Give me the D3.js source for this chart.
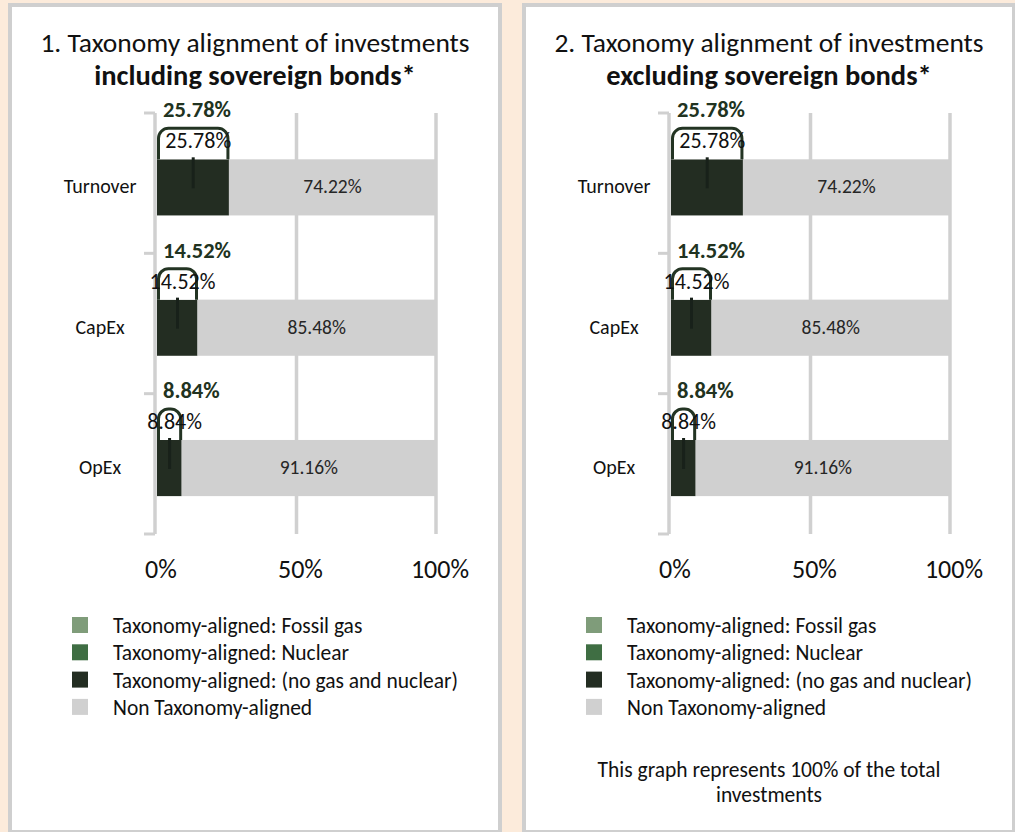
<!DOCTYPE html>
<html>
<head>
<meta charset="utf-8">
<script src="https://cdn.jsdelivr.net/npm/d3@7"></script>
<style>
    body { margin: 0; background: #FCEBDB; }
    svg { display: block; font-family: Carlito, Lato, "Open Sans", sans-serif; }
</style>
</head>
<body>
<div id="chart"></div>
<script>
// Chart data (same figures in both panels)
const categories = ['Turnover', 'CapEx', 'OpEx'];
const fossilGas = [0, 0, 0];
const nuclear = [0, 0, 0];
const noGasNuclear = [25.78, 14.52, 8.84];
const nonAligned = [74.22, 85.48, 91.16];
const xTicks = [0, 50, 100];

const seriesNames = [
    'Taxonomy-aligned: Fossil gas',
    'Taxonomy-aligned: Nuclear',
    'Taxonomy-aligned: (no gas and nuclear)',
    'Non Taxonomy-aligned'
];
const seriesColors = ['#7F9C7A', '#3F6E43', '#232D22', '#D0D0D0'];

const panelTitles = [
    ['1. Taxonomy alignment of investments', 'including sovereign bonds*'],
    ['2. Taxonomy alignment of investments', 'excluding sovereign bonds*']
];
const noteLines = ['This graph represents 100% of the total', 'investments'];

const width = 1015;
const height = 832;

const svg = d3.select('#chart')
    .append('svg')
    .attr('width', width)
    .attr('height', height);

// Build rows for the stacked bars
const rows = categories.map((c, i) => ({
    category: c,
    gas: fossilGas[i],
    nuclear: nuclear[i],
    aligned: noGasNuclear[i],
    non: nonAligned[i]
}));
const keys = ['gas', 'nuclear', 'aligned', 'non'];
const stacked = d3.stack().keys(keys)(rows);

function drawPanel(index, offsetX) {
    const g = svg.append('g').attr('transform', `translate(${offsetX},0)`);

    // Panel frame
    g.append('rect')
        .attr('x', 10)
        .attr('y', 5)
        .attr('width', 490)
        .attr('height', 827)
        .attr('fill', '#fff')
        .attr('stroke', '#CFCFCF')
        .attr('stroke-width', 4);

    // Title
    const title = g.append('text')
        .attr('text-anchor', 'middle')
        .attr('fill', '#111');
    title.append('tspan')
        .attr('x', 255).attr('y', 52)
        .style('font-size', '27.5px')
        .text(panelTitles[index][0]);
    title.append('tspan')
        .attr('x', 255).attr('y', 85)
        .style('font-size', '28.5px')
        .style('font-weight', 'bold')
        .text(panelTitles[index][1]);

    // Scales
    const x = d3.scaleLinear().domain([0, 100]).range([157, 436]);
    const y = d3.scaleBand()
        .domain(categories)
        .range([113, 534])
        .paddingInner(0.6)
        .paddingOuter(0.3)
        .align(0.55);
    const step = y.step();
    const bandTop = c => 113 + categories.indexOf(c) * step;

    // Gridlines at 50% and 100%
    g.selectAll('.grid')
        .data(xTicks.slice(1))
        .enter()
        .append('line')
        .attr('x1', d => x(d)).attr('x2', d => x(d))
        .attr('y1', 113).attr('y2', 534)
        .attr('stroke', '#D0D0D0')
        .attr('stroke-width', 3.5);

    // Category axis with outward ticks
    g.append('line')
        .attr('x1', x(0) - 2).attr('x2', x(0) - 2)
        .attr('y1', 113).attr('y2', 534)
        .attr('stroke', '#D0D0D0')
        .attr('stroke-width', 3.5);
    const tickYs = categories.map(bandTop).concat([534]);
    g.selectAll('.ytick')
        .data(tickYs)
        .enter()
        .append('line')
        .attr('x1', 144).attr('x2', x(0) - 2)
        .attr('y1', d => d).attr('y2', d => d)
        .attr('stroke', '#D0D0D0')
        .attr('stroke-width', 3);

    // Category labels
    g.selectAll('.cat')
        .data(categories)
        .enter()
        .append('text')
        .attr('x', 100)
        .attr('y', d => y(d) + y.bandwidth() / 2 + 6)
        .attr('text-anchor', 'middle')
        .attr('fill', '#111')
        .style('font-size', '20px')
        .text(d => d);

    // X tick labels
    g.selectAll('.xlab')
        .data(xTicks)
        .enter()
        .append('text')
        .attr('x', d => x(d) + 4)
        .attr('y', 578)
        .attr('text-anchor', 'middle')
        .attr('fill', '#111')
        .style('font-size', '26px')
        .text(d => d + '%');

    // Stacked bars
    stacked.forEach((layer, li) => {
        g.selectAll('.bar' + li)
            .data(layer)
            .enter()
            .append('rect')
            .attr('x', d => x(d[0]))
            .attr('y', d => y(d.data.category))
            .attr('width', d => x(d[1]) - x(d[0]))
            .attr('height', y.bandwidth())
            .attr('fill', seriesColors[li]);
    });

    // Values inside the grey segment
    g.selectAll('.nonlab')
        .data(rows)
        .enter()
        .append('text')
        .attr('x', d => (x(d.aligned) + x(100)) / 2)
        .attr('y', d => y(d.category) + y.bandwidth() / 2 + 6)
        .attr('text-anchor', 'middle')
        .attr('fill', '#262626')
        .style('font-size', '19.5px')
        .text(d => d.non.toFixed(2) + '%');

    // Callouts over the aligned segment
    rows.forEach(d => {
        const top = y(d.category);
        const x0 = x(0) + 1.5;
        const x1 = x(d.aligned) - 1;
        const boxTop = top - 31;
        const r = Math.min(10, (x1 - x0) / 2);
        const path = d3.path();
        path.moveTo(x0, top);
        path.lineTo(x0, boxTop + r);
        path.arcTo(x0, boxTop, x0 + r, boxTop, r);
        path.lineTo(x1 - r, boxTop);
        path.arcTo(x1, boxTop, x1, boxTop + r, r);
        path.lineTo(x1, top);
        g.append('path')
            .attr('d', path.toString())
            .attr('fill', '#fff')
            .attr('stroke', '#233423')
            .attr('stroke-width', 3);

        // leader line
        const cx = (x0 + x1) / 2;
        g.append('line')
            .attr('x1', cx).attr('x2', cx)
            .attr('y1', top - 2).attr('y2', top + 29)
            .attr('stroke', '#18211A')
            .attr('stroke-width', 3);

        g.append('text')
            .attr('x', cx + 5)
            .attr('y', top - 11)
            .attr('text-anchor', 'middle')
            .attr('fill', '#111')
            .style('font-size', '22px')
            .text(d.aligned.toFixed(2) + '%');

        // bold total aligned label
        g.append('text')
            .attr('x', x(0) + 6)
            .attr('y', top - 42)
            .attr('fill', '#213321')
            .style('font-size', '22.5px')
            .style('font-weight', 'bold')
            .text(d.aligned.toFixed(2) + '%');
    });

    // Legend
    const legend = g.selectAll('.legend')
        .data(seriesNames)
        .enter()
        .append('g')
        .attr('transform', (d, i) => `translate(72,${617 + i * 27.3})`);
    legend.append('rect')
        .attr('width', 16)
        .attr('height', 16)
        .attr('fill', (d, i) => seriesColors[i]);
    legend.append('text')
        .attr('x', 41)
        .attr('y', 16)
        .attr('fill', '#111')
        .style('font-size', '21.5px')
        .text(d => d);

    // Footnote only in the second panel
    if (index === 1) {
        g.selectAll('.note')
            .data(noteLines)
            .enter()
            .append('text')
            .attr('x', 255)
            .attr('y', (d, i) => 777 + i * 25)
            .attr('text-anchor', 'middle')
            .attr('fill', '#111')
            .style('font-size', '21.5px')
            .text(d => d);
    }
}

drawPanel(0, 0);
drawPanel(1, 514);
</script>
</body>
</html>
